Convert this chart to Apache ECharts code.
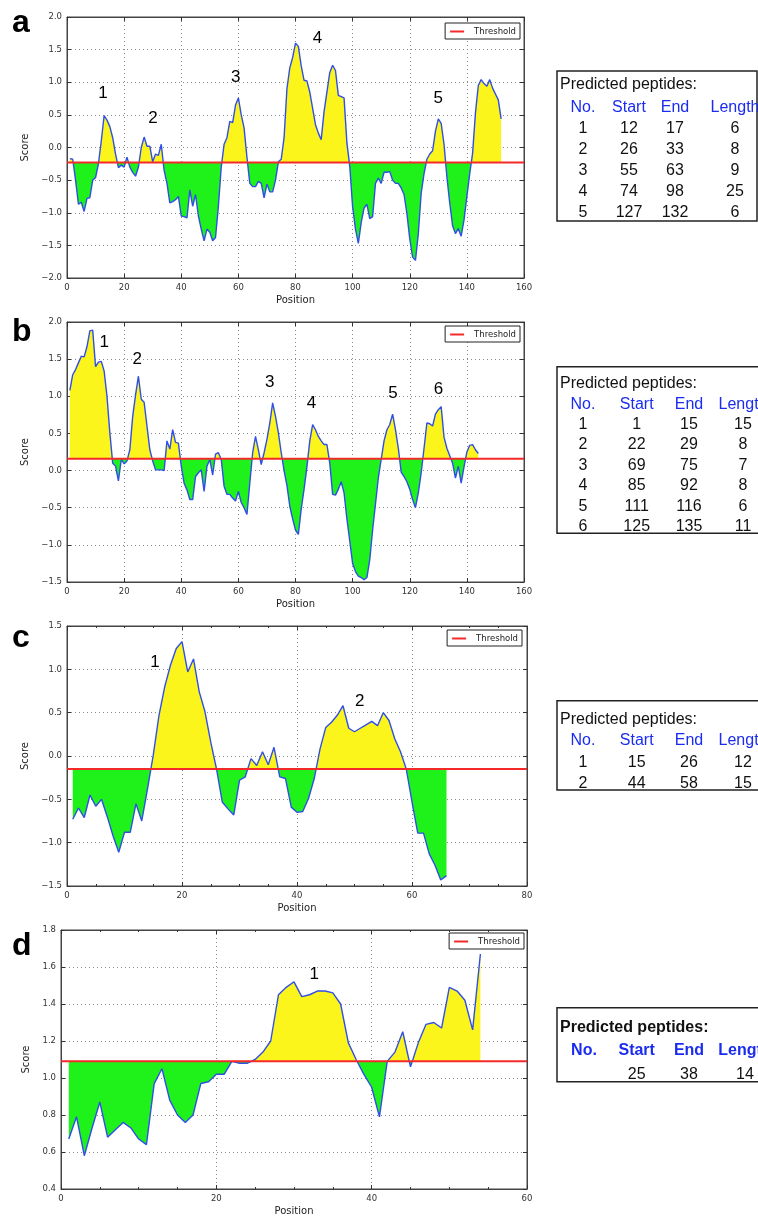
<!DOCTYPE html>
<html><head><meta charset="utf-8">
<script src="https://cdn.jsdelivr.net/npm/echarts@6/dist/echarts.min.js"></script>
<style>html,body{margin:0;padding:0;background:#fff}#c{width:758px;height:1218px}</style>
</head><body><div id="c"></div>
<script>
// ---------------- data ----------------
const scoreA = [-0.17,-0.18,-0.50,-0.87,-0.84,-0.98,-0.78,-0.77,-0.50,-0.46,
  -0.25,0.10,0.49,0.42,0.32,0.15,-0.10,-0.31,-0.27,-0.30,
  -0.15,-0.30,-0.38,-0.44,-0.30,0.00,0.16,0.02,0.02,-0.22,
  -0.10,-0.12,0.05,-0.35,-0.55,-0.85,-0.83,-0.80,-0.75,-1.05,
  -1.06,-1.08,-0.65,-0.90,-0.72,-1.05,-1.25,-1.43,-1.25,-1.30,
  -1.43,-1.38,-0.90,-0.30,0.05,0.15,0.40,0.38,0.65,0.76,
  0.50,0.30,-0.15,-0.55,-0.60,-0.60,-0.52,-0.55,-0.77,-0.56,
  -0.68,-0.68,-0.50,-0.22,-0.18,0.15,0.90,1.22,1.38,1.60,
  1.55,1.25,1.03,1.02,0.85,0.60,0.35,0.22,0.12,0.55,
  0.85,1.15,1.26,1.18,0.80,0.78,0.76,0.07,-0.29,-0.91,
  -1.25,-1.47,-1.15,-0.93,-0.87,-1.09,-1.06,-0.55,-0.47,-0.55,
  -0.38,-0.38,-0.37,-0.50,-0.55,-0.55,-0.62,-0.72,-1.01,-1.40,
  -1.68,-1.73,-1.32,-0.70,-0.40,-0.18,-0.10,-0.05,0.25,0.44,
  0.37,0.05,-0.45,-0.85,-1.20,-1.32,-1.24,-1.36,-1.11,-0.75,
  -0.40,-0.09,0.53,0.95,1.04,0.98,0.94,1.04,0.91,0.82,
  0.73,0.44];
const scoreB = [1.08,1.29,1.36,1.45,1.54,1.53,1.67,1.88,1.89,1.40,
  1.46,1.47,1.34,1.00,0.51,0.10,0.06,-0.14,0.15,0.09,
  0.13,0.28,0.73,1.02,1.27,0.96,0.92,0.60,0.28,0.13,
  0.01,0.01,0.01,0.00,0.40,0.29,0.55,0.38,0.37,0.06,
  -0.17,-0.26,-0.39,-0.39,-0.08,-0.03,0.01,-0.28,0.06,0.15,
  -0.06,0.22,0.24,0.15,-0.21,-0.32,-0.32,-0.37,-0.41,-0.28,
  -0.43,-0.50,-0.59,-0.17,0.24,0.46,0.28,0.08,0.24,0.42,
  0.64,0.91,0.73,0.51,0.24,0.00,-0.20,-0.48,-0.65,-0.80,
  -0.86,-0.52,-0.25,0.05,0.40,0.62,0.55,0.46,0.40,0.35,
  0.35,0.10,-0.32,-0.33,-0.25,-0.15,-0.30,-0.65,-0.95,-1.25,
  -1.36,-1.42,-1.44,-1.47,-1.44,-1.20,-0.80,-0.45,-0.10,0.15,
  0.40,0.55,0.62,0.76,0.55,0.30,-0.02,-0.08,-0.15,-0.25,
  -0.39,-0.50,-0.30,-0.03,0.30,0.64,0.63,0.60,0.76,0.82,
  0.86,0.45,0.30,0.20,0.10,-0.10,0.06,-0.17,0.05,0.25,
  0.34,0.35,0.28,0.23];
const scoreC = [-0.73,-0.60,-0.71,-0.45,-0.58,-0.50,-0.70,-0.92,-1.11,-0.88,
  -0.88,-0.55,-0.75,-0.38,0.01,0.47,0.80,1.05,1.24,1.32,
  0.97,1.12,0.74,0.51,0.16,-0.15,-0.53,-0.61,-0.68,-0.28,
  -0.24,-0.03,-0.11,0.05,-0.10,0.10,-0.24,-0.26,-0.59,-0.65,
  -0.64,-0.49,-0.26,0.08,0.33,0.39,0.47,0.58,0.32,0.28,
  0.32,0.36,0.40,0.35,0.50,0.41,0.20,0.05,-0.15,-0.53,
  -0.89,-0.89,-1.13,-1.26,-1.43,-1.38];
const scoreD = [0.67,0.79,0.58,0.73,0.87,0.68,0.72,0.76,0.73,0.67,
  0.64,0.97,1.05,0.88,0.80,0.76,0.80,0.97,0.98,1.02,
  1.02,1.09,1.08,1.08,1.10,1.14,1.20,1.45,1.49,1.52,
  1.44,1.45,1.47,1.47,1.46,1.40,1.19,1.10,1.02,0.95,
  0.79,1.09,1.14,1.25,1.06,1.19,1.29,1.30,1.27,1.49,
  1.47,1.42,1.26,1.67];

const thresholds = [-0.23, 0.16, -0.15, 1.09];

const xRangeA = [0, 160, 20], yRangeA = [-2.0, 2.0, 0.5];
const xRangeB = [0, 160, 20], yRangeB = [-1.5, 2.0, 0.5];
const xRangeC = [0, 80, 20],  yRangeC = [-1.5, 1.5, 0.5];
const xRangeD = [0, 60, 20],  yRangeD = [0.4, 1.8, 0.2];

const peaksA = [['1',12.6,0.83],['2',30.1,0.45],['3',59.1,1.08],['4',87.7,1.67],['5',130,0.75]];
const peaksB = [['1',13,1.73],['2',24.6,1.50],['3',71,1.19],['4',85.6,0.90],['5',114.1,1.04],['6',130.1,1.10]];
const peaksC = [['1',15.3,1.08],['2',50.9,0.63]];
const peaksD = [['1',32.6,1.56]];

const panelLetters = ['a','b','c','d'];
const tableTitle = 'Predicted peptides:';
const tableHeader = ['No.','Start','End','Length'];
const tableRowsA = [[1,12,17,6],[2,26,33,8],[3,55,63,9],[4,74,98,25],[5,127,132,6]];
const tableRowsB = [[1,1,15,15],[2,22,29,8],[3,69,75,7],[4,85,92,8],[5,111,116,6],[6,125,135,11]];
const tableRowsC = [[1,15,26,12],[2,44,58,15]];
const tableRowsD = [['',25,38,14]];

// ---------------- layout ----------------
const panels = [
  {score:scoreA, xr:xRangeA, yr:yRangeA, peaks:peaksA, rows:tableRowsA, minor:false,
   grid:{left:67,top:17,width:457,height:261}, letterY:26, legend:{right:238,top:23},
   table:{top:71,bottom:221,right:757,titleY:85,headY:107.7,rowY0:128.3,rowStep:21,cols:[583,629,675,735],bold:false}},
  {score:scoreB, xr:xRangeB, yr:yRangeB, peaks:peaksB, rows:tableRowsB, minor:false,
   grid:{left:67,top:322,width:457,height:260}, letterY:335, legend:{right:238,top:326},
   table:{top:366.7,bottom:533.3,right:800,titleY:384,headY:404.5,rowY0:424.5,rowStep:20.5,cols:[583,636.7,689,743],bold:false}},
  {score:scoreC, xr:xRangeC, yr:yRangeC, peaks:peaksC, rows:tableRowsC, minor:true,
   grid:{left:67,top:626,width:460,height:260}, letterY:641, legend:{right:236,top:630},
   table:{top:700.7,bottom:790,right:800,titleY:719.5,headY:740.7,rowY0:762.3,rowStep:21.3,cols:[583,636.7,689,743],bold:false}},
  {score:scoreD, xr:xRangeD, yr:yRangeD, peaks:peaksD, rows:tableRowsD, minor:true,
   grid:{left:61,top:930,width:466,height:259}, letterY:949, legend:{right:234,top:933},
   table:{top:1007.7,bottom:1081.7,right:800,titleY:1027.7,headY:1050.7,rowY0:1074.5,rowStep:21,cols:[584,636.7,689,745],bold:true}}
];

const YELLOW = '#fbf51c', GREEN = '#1ff21a', BLUE = '#2f4fe6', RED = '#f42a2a';
const FONT = 'DejaVu Sans', TFONT = 'Liberation Sans';

const grids=[], xAxes=[], yAxes=[], series=[], visualMaps=[], legends=[], graphics=[];
const fmt = v => (v < 0 ? '\u2212' : '') + Math.abs(v).toFixed(1);

panels.forEach((p, i) => {
  const thr = thresholds[i];
  grids.push(Object.assign({show:true, borderColor:'#444', borderWidth:1, containLabel:false}, p.grid));
  const tick = {show:true, inside:true, length:4, lineStyle:{color:'#333'}};
  const minorTick = {show:p.minor, splitNumber:4, length:2, lineStyle:{color:'#333'}};
  const grid = {show:true, lineStyle:{color:'#8a8a8a', width:1, type:[1,3]}};
  xAxes.push({gridIndex:i, type:'value', min:p.xr[0], max:p.xr[1], interval:p.xr[2], position:'bottom',
    axisLine:{show:true, onZero:false, lineStyle:{color:'#444'}}, axisTick:tick, minorTick:minorTick, splitLine:grid,
    axisLabel:{fontSize:8.5, color:'#333', margin:5, fontFamily:FONT},
    name:'Position', nameLocation:'middle', nameGap:17, nameTextStyle:{fontSize:10, color:'#222', fontFamily:FONT}});
  xAxes.push({gridIndex:i, type:'value', min:p.xr[0], max:p.xr[1], interval:p.xr[2], position:'top',
    axisLine:{show:true, onZero:false, lineStyle:{color:'#444'}}, axisTick:tick, minorTick:minorTick,
    splitLine:{show:false}, axisLabel:{show:false}});
  yAxes.push({gridIndex:i, type:'value', min:p.yr[0], max:p.yr[1], interval:p.yr[2], position:'left',
    axisLine:{show:true, onZero:false, lineStyle:{color:'#444'}}, axisTick:tick, splitLine:grid,
    axisLabel:{fontSize:8.5, color:'#333', margin:5, fontFamily:FONT, formatter:fmt},
    name:'Score', nameLocation:'middle', nameRotate:90, nameGap:23, nameTextStyle:{fontSize:10, color:'#222', fontFamily:FONT}});
  yAxes.push({gridIndex:i, type:'value', min:p.yr[0], max:p.yr[1], interval:p.yr[2], position:'right',
    axisLine:{show:true, onZero:false, lineStyle:{color:'#444'}}, axisTick:tick, splitLine:{show:false}, axisLabel:{show:false}});

  const pts = p.score.map((v, k) => [k + 1, v]);
  const xi = 2*i, yi = 2*i;
  const areaIdx = series.length;
  series.push({type:'line', name:'fill'+i, xAxisIndex:xi, yAxisIndex:yi, data:pts, showSymbol:false, silent:true,
    lineStyle:{width:0, opacity:0}, areaStyle:{origin:thr, opacity:1}, z:1, animation:false});
  visualMaps.push({type:'piecewise', show:false, seriesIndex:areaIdx, dimension:1,
    pieces:[{gt:p.yr[0]-10, lte:thr, color:GREEN},{gt:thr, lte:p.yr[1]+10, color:YELLOW}]});
  series.push({type:'line', name:'score'+i, xAxisIndex:xi, yAxisIndex:yi, data:pts, showSymbol:false, silent:true,
    lineStyle:{color:BLUE, width:1.4}, itemStyle:{color:BLUE}, z:3, animation:false});
  series.push({type:'line', name:'Threshold', xAxisIndex:xi, yAxisIndex:yi, data:[[p.xr[0],thr],[p.xr[1],thr]],
    showSymbol:false, silent:true, color:RED, lineStyle:{color:RED, width:2}, itemStyle:{color:RED}, z:4, animation:false});
  series.push({type:'scatter', name:'peaks'+i, xAxisIndex:xi, yAxisIndex:yi, silent:true, symbolSize:0,
    itemStyle:{opacity:1},
    data:p.peaks.map(q => [q[1], q[2], q[0]]),
    label:{show:true, position:'inside', formatter:o => o.data[2], fontSize:17, color:'#000', opacity:1,
      textBorderWidth:0, fontFamily:TFONT}, z:5, animation:false});

  legends.push({data:['Threshold'], right:p.legend.right, top:p.legend.top, icon:'rect', itemWidth:14, itemHeight:2,
    borderColor:'#222', borderWidth:1, borderRadius:0, padding:[4,4,3,5], backgroundColor:'#fff', selectedMode:false,
    textStyle:{fontSize:8.5, fontFamily:FONT, color:'#222', padding:[0,0,0,5]}});

  graphics.push({type:'text', left:12, top:p.letterY - 19, style:{text:panelLetters[i], fontSize:32, fontWeight:'bold', fontFamily:TFONT, fill:'#000'}});

  const t = p.table;
  graphics.push({type:'rect', shape:{x:557, y:t.top, width:t.right-557, height:t.bottom-t.top},
    style:{fill:'#fff', stroke:'#222', lineWidth:1.5}, z:10});
  const fw = t.bold ? 'bold' : 'normal';
  graphics.push({type:'text', x:560, y:t.titleY, z:11, style:{text:tableTitle, fontSize:16, fontWeight:fw, fontFamily:TFONT, fill:'#111', align:'left', verticalAlign:'middle'}});
  tableHeader.forEach((h, c) => graphics.push({type:'text', x:t.cols[c], y:t.headY, z:11,
    style:{text:h, fontSize:16, fontWeight:fw, fontFamily:TFONT, fill:'#1a2cf0', align:'center', verticalAlign:'middle'}}));
  p.rows.forEach((r, ri) => r.forEach((v, c) => graphics.push({type:'text', x:t.cols[c], y:t.rowY0 + ri*t.rowStep, z:11,
    style:{text:String(v), fontSize:16, fontFamily:TFONT, fill:'#111', align:'center', verticalAlign:'middle'}})));
});

const chart = echarts.init(document.getElementById('c'));
chart.setOption({
  backgroundColor:'#fff', animation:false,
  grid:grids, xAxis:xAxes, yAxis:yAxes, series:series, visualMap:visualMaps, legend:legends, graphic:graphics
});
</script></body></html>
